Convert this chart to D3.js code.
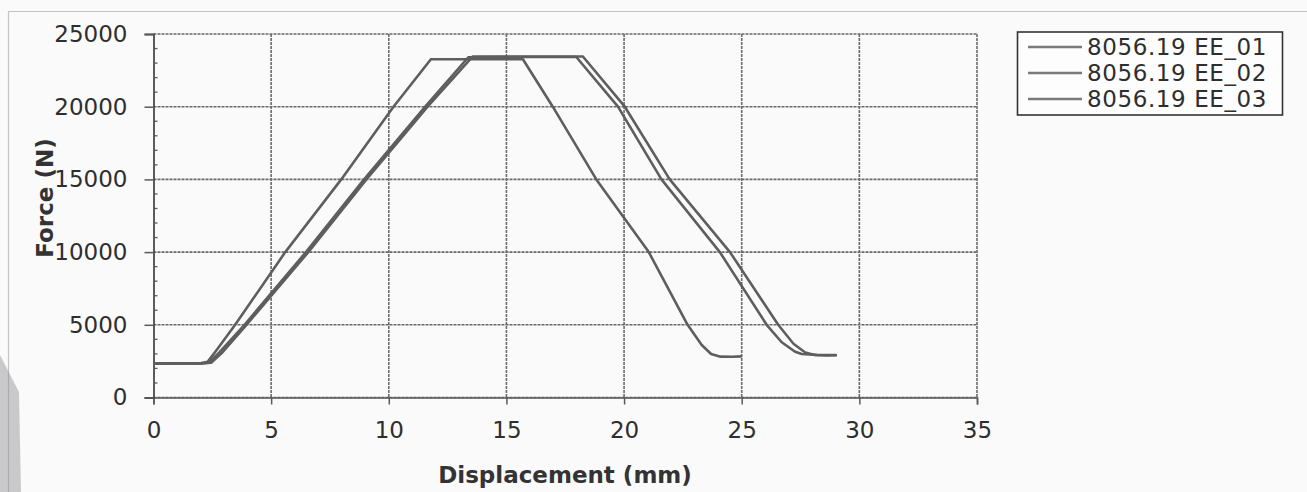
<!DOCTYPE html>
<html>
<head>
    <title>Force vs Displacement</title>
    <script src="https://cdn.jsdelivr.net/npm/d3@7"></script>
    <style>
        body {
            margin: 0;
            padding: 0;
            background-color: #fbfafb;
            overflow: hidden;
        }

        .tick-label {
            font-family: "DejaVu Sans", Verdana, sans-serif;
            font-size: 23px;
            fill: #2e2e2e;
        }

        .axis-title {
            font-family: "DejaVu Sans", Verdana, sans-serif;
            font-size: 23px;
            font-weight: bold;
            fill: #333;
        }

        .legend-label {
            font-family: "DejaVu Sans", Verdana, sans-serif;
            font-size: 23px;
            fill: #2e2e2e;
        }
    </style>
</head>
<body>
    <div id="chart"></div>

    <script>
        // series names
        const seriesNames = ["8056.19 EE_01", "8056.19 EE_02", "8056.19 EE_03"];

        // displacement (mm) / force (N)
        const disp01 = [0, 0.5, 1.0, 1.5, 2.0, 2.3, 2.7, 3.47, 5.6, 7.98, 10.2, 11.79, 13.0, 14.5, 15.7, 16.97, 18.82, 21.05, 22.7, 23.3, 23.7, 24.1, 24.6, 25.0];
        const force01 = [2330, 2350, 2340, 2360, 2360, 2450, 3300, 5000, 10000, 15000, 20000, 23260, 23260, 23260, 23260, 20000, 15000, 10000, 5000, 3610, 2990, 2810, 2800, 2830];

        const disp02 = [0, 1, 2, 2.35, 2.8, 3.87, 6.48, 8.95, 11.55, 13.38, 15, 16.5, 17.97, 19.74, 21.59, 24.07, 26.06, 26.7, 27.27, 27.55, 28.2, 29.0];
        const force02 = [2350, 2360, 2350, 2400, 3100, 5000, 10000, 15000, 20000, 23400, 23420, 23420, 23420, 20000, 15000, 10000, 5000, 3800, 3150, 2990, 2930, 2920];

        const disp03 = [0, 1, 2, 2.45, 2.9, 3.95, 6.58, 9.05, 11.65, 13.56, 15, 16.5, 18.25, 20.03, 21.94, 24.5, 26.55, 27.2, 27.7, 28.1, 28.6, 29.05];
        const force03 = [2330, 2340, 2340, 2390, 3050, 5000, 10000, 15000, 20000, 23450, 23450, 23450, 23450, 20000, 15000, 10000, 5000, 3700, 3100, 2920, 2900, 2910];

        // tick values
        const xTicks = [0, 5, 10, 15, 20, 25, 30, 35];
        const yTicks = [0, 5000, 10000, 15000, 20000, 25000];
        const yMinorTicks = d3.range(0, 25001, 1000).filter(v => v % 5000 !== 0);

        const width = 1307;
        const height = 492;

        const svg = d3.select("#chart")
            .append("svg")
            .attr("width", width)
            .attr("height", height);

        // scan artefact at the left edge
        svg.append("path")
            .attr("d", "M0,355 L19,392 L21,492 L0,492 Z")
            .attr("fill", "#c9c9cb");

        // outer chart frame
        svg.append("rect")
            .attr("x", 8.5)
            .attr("y", 11.5)
            .attr("width", 1320)
            .attr("height", 500)
            .attr("fill", "none")
            .attr("stroke", "#8d8d8d")
            .attr("stroke-width", 1.2)
            .attr("stroke-dasharray", "1,1");

        const xScale = d3.scaleLinear()
            .domain([0, 35])
            .range([153.5, 977]);

        const yScale = d3.scaleLinear()
            .domain([0, 25000])
            .range([397.5, 34]);

        // grid
        svg.append("g")
            .selectAll("line")
            .data(yTicks)
            .enter()
            .append("line")
            .attr("x1", xScale(0))
            .attr("x2", xScale(35))
            .attr("y1", d => yScale(d))
            .attr("y2", d => yScale(d))
            .attr("stroke", "#6a6a6a")
            .attr("stroke-width", 1.6)
            .attr("stroke-dasharray", "3,1");

        svg.append("g")
            .selectAll("line")
            .data(xTicks.slice(1))
            .enter()
            .append("line")
            .attr("x1", d => xScale(d))
            .attr("x2", d => xScale(d))
            .attr("y1", yScale(25000))
            .attr("y2", yScale(0))
            .attr("stroke", "#6a6a6a")
            .attr("stroke-width", 1.6)
            .attr("stroke-dasharray", "3,1");

        // x axis
        const xAxis = svg.append("g")
            .attr("transform", `translate(0,${yScale(0)})`)
            .call(d3.axisBottom(xScale).tickValues(xTicks).tickSize(7).tickPadding(17));
        xAxis.select(".domain").attr("stroke", "#5a5a5a").attr("stroke-width", 1.6);
        xAxis.selectAll(".tick line").attr("stroke", "#5a5a5a").attr("stroke-width", 1.5);
        xAxis.selectAll(".tick text").attr("class", "tick-label");
        xAxis.attr("font-size", null).attr("font-family", null);

        // y axis
        const yAxis = svg.append("g")
            .attr("transform", `translate(${xScale(0)},0)`)
            .call(d3.axisLeft(yScale).tickValues(yTicks).tickSize(9).tickPadding(17).tickFormat(d3.format("d")));
        yAxis.select(".domain").attr("stroke", "#4a4a4a").attr("stroke-width", 1.8);
        yAxis.selectAll(".tick line").attr("stroke", "#5a5a5a").attr("stroke-width", 1.5);
        yAxis.selectAll(".tick text").attr("class", "tick-label");
        yAxis.attr("font-size", null).attr("font-family", null);

        // minor y ticks, inside the plot
        svg.append("g")
            .selectAll("line")
            .data(yMinorTicks)
            .enter()
            .append("line")
            .attr("x1", xScale(0))
            .attr("x2", xScale(0) + 4)
            .attr("y1", d => yScale(d))
            .attr("y2", d => yScale(d))
            .attr("stroke", "#5a5a5a")
            .attr("stroke-width", 1.3);

        // axis titles
        svg.append("text")
            .attr("class", "axis-title")
            .attr("x", 565)
            .attr("y", 483)
            .style("text-anchor", "middle")
            .text("Displacement (mm)");

        svg.append("text")
            .attr("class", "axis-title")
            .attr("transform", "translate(53,198) rotate(-90)")
            .style("text-anchor", "middle")
            .text("Force (N)");

        // series
        const series = [
            { name: seriesNames[0], x: disp01, y: force01 },
            { name: seriesNames[1], x: disp02, y: force02 },
            { name: seriesNames[2], x: disp03, y: force03 }
        ];

        const line = d3.line()
            .x(d => xScale(d[0]))
            .y(d => yScale(d[1]));

        svg.append("g")
            .selectAll("path")
            .data(series)
            .enter()
            .append("path")
            .attr("d", s => line(s.x.map((v, i) => [v, s.y[i]])))
            .attr("fill", "none")
            .attr("stroke", "#5e5e5e")
            .attr("stroke-width", 2.6)
            .attr("stroke-linejoin", "round");

        // legend
        const legend = svg.append("g");
        legend.append("rect")
            .attr("x", 1017.5)
            .attr("y", 32)
            .attr("width", 265)
            .attr("height", 83)
            .attr("fill", "#fdfdfd")
            .attr("stroke", "#333")
            .attr("stroke-width", 1.6);

        const rows = legend.selectAll(".legend-row")
            .data(seriesNames)
            .enter()
            .append("g")
            .attr("class", "legend-row")
            .attr("transform", (d, i) => `translate(0,${47 + i * 26})`);

        rows.append("line")
            .attr("x1", 1028)
            .attr("x2", 1082)
            .attr("y1", 0)
            .attr("y2", 0)
            .attr("stroke", "#7a7a7a")
            .attr("stroke-width", 2.4);

        rows.append("text")
            .attr("class", "legend-label")
            .attr("x", 1087)
            .attr("y", 8)
            .style("letter-spacing", "0.6px")
            .text(d => d);
    </script>
</body>
</html>
